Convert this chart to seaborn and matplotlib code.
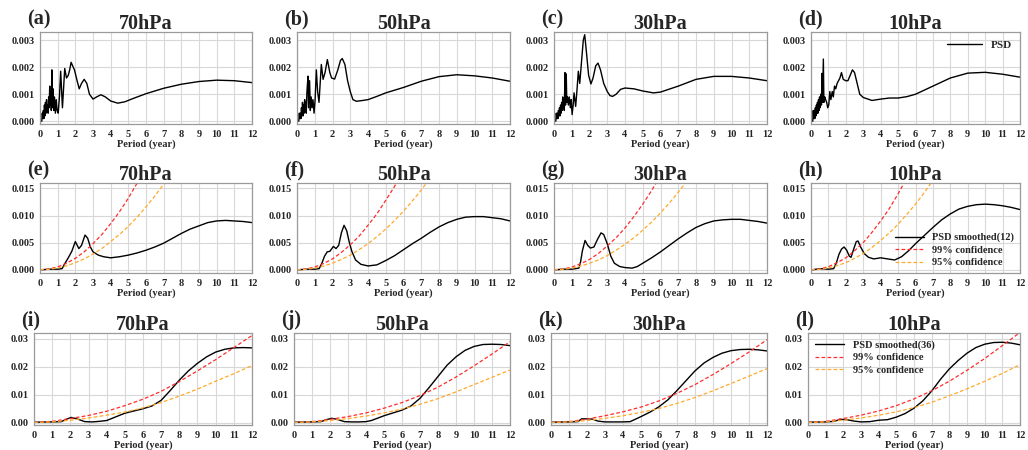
import matplotlib
matplotlib.use("Agg")
import matplotlib.pyplot as plt
import seaborn as sns
import pandas as pd
from matplotlib.ticker import FormatStrFormatter

# ---------------- data ----------------
PRESSURES = ["70hPa", "50hPa", "30hPa", "10hPa"]
LETTERS = ["(a)", "(b)", "(c)", "(d)", "(e)", "(f)", "(g)", "(h)", "(i)", "(j)", "(k)", "(l)"]
XTICKS = list(range(0, 13))
XLABEL = "Period (year)"

# Row 1: raw PSD
A_X = [0.10,0.13,0.16,0.19,0.22,0.25,0.28,0.31,0.34,0.37,0.40,0.43,0.46,0.49,0.52,0.55,0.58,0.61,0.64,0.67,0.70,0.74,0.78,0.82,0.87,0.92,0.97,1.03,1.10,1.17,1.27,1.40,1.50,1.60,1.68,1.76,1.95,2.10,2.22,2.35,2.50,2.65,2.80,3.00,3.20,3.45,3.70,4.00,4.40,4.80,5.30,6.00,7.00,8.00,9.00,10.00,11.00,12.00]
A_Y = [0.0000,0.0003,0.0001,0.0004,0.0001,0.0006,0.0002,0.0007,0.0003,0.0008,0.0004,0.0006,0.0003,0.0009,0.0005,0.0013,0.0006,0.0010,0.0004,0.0019,0.0005,0.0012,0.0004,0.0009,0.0003,0.0008,0.0004,0.0003,0.0009,0.00185,0.0005,0.00195,0.0016,0.0017,0.0019,0.00218,0.0019,0.0015,0.0012,0.0014,0.00155,0.0014,0.0010,0.00082,0.0009,0.00098,0.0009,0.00075,0.00067,0.00072,0.00085,0.00102,0.00122,0.00137,0.00147,0.00152,0.00150,0.00143]

B_X = [0.10,0.13,0.16,0.19,0.22,0.25,0.28,0.31,0.34,0.37,0.40,0.43,0.46,0.49,0.52,0.56,0.62,0.65,0.71,0.75,0.80,0.85,0.90,0.96,1.02,1.09,1.16,1.24,1.37,1.47,1.58,1.71,1.85,1.95,2.12,2.30,2.45,2.55,2.70,2.85,3.00,3.15,3.35,3.70,4.00,4.50,5.00,6.00,7.00,8.00,9.00,10.00,11.00,12.00]
B_Y = [0.0000,0.0003,0.0001,0.0003,0.0001,0.0005,0.0002,0.0007,0.0002,0.0006,0.0003,0.0008,0.0004,0.0007,0.0003,0.0011,0.00167,0.0005,0.0015,0.0004,0.0009,0.0005,0.0008,0.0003,0.0008,0.0019,0.0011,0.0007,0.0021,0.00155,0.0018,0.00228,0.0018,0.0016,0.00156,0.0019,0.00225,0.00232,0.0021,0.0015,0.0011,0.0008,0.00074,0.00077,0.0008,0.00092,0.00105,0.00125,0.00148,0.00165,0.00172,0.00168,0.00160,0.00148]

C_X = [0.10,0.13,0.16,0.19,0.22,0.25,0.28,0.31,0.34,0.37,0.40,0.43,0.46,0.49,0.52,0.55,0.58,0.62,0.65,0.69,0.72,0.76,0.81,0.86,0.92,0.97,1.02,1.08,1.13,1.22,1.30,1.37,1.45,1.55,1.65,1.73,1.82,1.95,2.08,2.20,2.35,2.48,2.62,2.80,3.00,3.15,3.30,3.50,3.75,4.00,4.50,5.00,5.60,6.00,7.00,8.00,9.00,10.00,11.00,12.00]
C_Y = [0.0000,0.0003,0.0001,0.0003,0.0001,0.0004,0.0002,0.0005,0.0002,0.0006,0.0003,0.0007,0.0004,0.0009,0.0005,0.0008,0.0004,0.0018,0.0006,0.00175,0.0007,0.0009,0.0006,0.0009,0.0005,0.0008,0.00025,0.0006,0.00105,0.00055,0.0012,0.00185,0.0014,0.0022,0.0030,0.0032,0.0026,0.0017,0.00138,0.0016,0.00205,0.00215,0.0019,0.0014,0.0011,0.00095,0.00092,0.0010,0.00118,0.00123,0.0012,0.00112,0.00105,0.00108,0.0013,0.00155,0.00166,0.00166,0.0016,0.0015]

D_X = [0.10,0.13,0.16,0.19,0.22,0.25,0.28,0.31,0.34,0.37,0.40,0.43,0.46,0.49,0.52,0.56,0.60,0.63,0.66,0.71,0.74,0.79,0.84,0.90,0.96,1.02,1.08,1.14,1.22,1.28,1.35,1.42,1.50,1.58,1.66,1.75,1.85,2.00,2.12,2.25,2.38,2.50,2.65,2.80,3.00,3.50,4.00,4.50,5.00,5.50,6.00,7.00,8.00,9.00,10.00,11.00,12.00]
D_Y = [0.0000,0.0004,0.0001,0.0004,0.0001,0.0005,0.0002,0.0006,0.0003,0.0007,0.0003,0.0008,0.0004,0.0009,0.0005,0.0010,0.0006,0.00177,0.0007,0.0023,0.0007,0.0009,0.0008,0.0007,0.0005,0.0006,0.0011,0.0008,0.0011,0.0009,0.0013,0.0012,0.0014,0.0015,0.0016,0.0018,0.00155,0.0015,0.0015,0.0017,0.0019,0.0018,0.0014,0.0010,0.00088,0.00077,0.00082,0.00086,0.00086,0.00091,0.0010,0.0013,0.0016,0.00178,0.00181,0.00174,0.00163]

# Row 2: smoothed(12) PSD
E_X = [0.1,0.5,1.0,1.25,1.4,1.6,1.8,2.0,2.2,2.35,2.55,2.7,2.85,3.0,3.3,3.6,4.0,4.5,5.0,5.5,6.0,6.5,7.0,7.5,8.0,8.5,9.0,9.5,10.0,10.5,11.0,11.5,12.0]
E_Y = [0.0,0.0001,0.0001,0.0002,0.0011,0.0022,0.0034,0.0052,0.0039,0.0045,0.0064,0.0058,0.0042,0.0033,0.0027,0.0024,0.0022,0.0024,0.0027,0.0031,0.0036,0.0042,0.0049,0.0058,0.0067,0.0075,0.0081,0.0087,0.0090,0.0091,0.0090,0.0089,0.0087]
F_X = [0.1,0.5,1.0,1.25,1.4,1.55,1.7,1.85,2.05,2.2,2.35,2.5,2.65,2.8,2.95,3.1,3.3,3.6,4.0,4.5,5.0,5.5,6.0,6.5,7.0,7.5,8.0,8.5,9.0,9.5,10.0,10.5,11.0,11.5,12.0]
F_Y = [0.0,0.0001,0.0001,0.0002,0.0012,0.0025,0.0033,0.0034,0.0043,0.0039,0.0045,0.0068,0.0082,0.0072,0.0050,0.0033,0.0018,0.0010,0.0007,0.0009,0.0017,0.0026,0.0037,0.0048,0.0058,0.0069,0.0079,0.0087,0.0093,0.0097,0.0098,0.0098,0.0096,0.0094,0.0090]
G_X = [0.1,0.5,1.0,1.4,1.5,1.6,1.75,1.9,2.05,2.25,2.45,2.65,2.8,3.0,3.2,3.4,3.7,4.0,4.4,4.7,5.0,5.5,6.0,6.5,7.0,7.5,8.0,8.5,9.0,9.5,10.0,10.5,11.0,11.5,12.0]
G_Y = [0.0,0.0001,0.0001,0.0003,0.0015,0.0035,0.0054,0.0045,0.0040,0.0042,0.0056,0.0068,0.0065,0.0048,0.0025,0.0012,0.0006,0.0004,0.0003,0.0006,0.0012,0.0022,0.0033,0.0045,0.0057,0.0068,0.0078,0.0085,0.0090,0.0092,0.0093,0.0093,0.0091,0.0089,0.0086]
H_X = [0.1,0.5,1.0,1.3,1.45,1.6,1.75,1.9,2.05,2.2,2.3,2.45,2.6,2.7,2.85,3.05,3.3,3.6,4.0,4.4,4.8,5.2,5.6,6.0,6.5,7.0,7.5,8.0,8.5,9.0,9.5,10.0,10.5,11.0,11.5,12.0]
H_Y = [0.0,0.0002,0.0001,0.0002,0.0012,0.0028,0.0038,0.0042,0.0036,0.0025,0.0023,0.0038,0.0052,0.0053,0.0042,0.0030,0.0023,0.0020,0.0022,0.0020,0.0018,0.0024,0.0035,0.0048,0.0063,0.0078,0.0092,0.0103,0.0112,0.0117,0.0120,0.0121,0.0120,0.0118,0.0115,0.0111]

# Row 2 confidence curves
CONF12_X = [0.0,0.5,1.0,1.5,2.0,2.5,3.0,3.5,4.0,4.5,5.0,5.5,6.0,6.5,7.0,7.5,8.0]
E_99 = [0.0,0.00013,0.00053,0.0012,0.0021,0.0033,0.0048,0.0065,0.0085,0.0107,0.0132,0.0160,0.0190,0.0224,0.026,0.030,0.034]
E_95 = [0.0,0.00008,0.00032,0.00072,0.0013,0.0020,0.0029,0.0039,0.0052,0.0065,0.0080,0.0097,0.0116,0.0136,0.0158,0.0181,0.0206]
F_99 = [0.0,0.00013,0.00051,0.00115,0.0020,0.0032,0.0046,0.0062,0.0082,0.0103,0.0128,0.0154,0.0184,0.0215,0.025,0.029,0.033]
F_95 = [0.0,0.000075,0.0003,0.00068,0.0012,0.0019,0.0027,0.0037,0.0048,0.0061,0.0075,0.0091,0.0108,0.0127,0.0147,0.0169,0.0192]
G_99 = [0.0,0.00012,0.00048,0.0011,0.0019,0.0030,0.0044,0.0059,0.0077,0.0098,0.0121,0.0146,0.0174,0.0204,0.024,0.027,0.031]
G_95 = [0.0,0.00007,0.00029,0.00066,0.0012,0.0018,0.0026,0.0036,0.0047,0.0059,0.0073,0.0088,0.0105,0.0123,0.0143,0.0164,0.0187]
H_99 = [0.0,0.00014,0.00056,0.0013,0.0022,0.0035,0.0050,0.0069,0.0090,0.0113,0.0140,0.0169,0.0202,0.0236,0.027,0.031,0.036]
H_95 = [0.0,0.00008,0.00034,0.00076,0.0013,0.0021,0.0030,0.0041,0.0054,0.0068,0.0084,0.0102,0.0121,0.0142,0.0165,0.0189,0.0215]

# Row 3: smoothed(36) PSD
I_X = [0.0,1.0,1.5,1.8,2.05,2.4,2.8,3.2,3.6,4.0,4.5,5.0,5.5,6.0,6.5,7.0,7.5,8.0,8.5,9.0,9.5,10.0,10.5,11.0,11.5,12.0]
I_Y = [0.0002,0.0003,0.0004,0.0013,0.0019,0.0013,0.0004,0.0003,0.0005,0.0008,0.0021,0.0034,0.0042,0.0050,0.0060,0.0080,0.0115,0.0152,0.0185,0.0212,0.0235,0.0252,0.0262,0.0267,0.0268,0.0267]
J_X = [0.0,1.0,1.5,1.8,2.1,2.4,2.8,3.2,3.6,4.0,4.3,5.0,5.5,6.0,6.5,7.0,7.5,8.0,8.5,9.0,9.5,10.0,10.5,11.0,11.5,12.0]
J_Y = [0.0002,0.0003,0.0004,0.0011,0.0016,0.0012,0.0004,0.0003,0.0003,0.0004,0.0008,0.0025,0.0035,0.0045,0.0060,0.0087,0.0125,0.0165,0.0205,0.0235,0.0258,0.0272,0.0279,0.0280,0.0279,0.0275]
K_X = [0.0,1.0,1.5,1.7,2.0,2.3,2.6,3.0,3.5,4.0,4.4,5.0,5.5,6.0,6.5,7.0,7.5,8.0,8.5,9.0,9.5,10.0,10.5,11.0,11.5,12.0]
K_Y = [0.0002,0.0003,0.0004,0.0014,0.0014,0.0013,0.0006,0.0003,0.0003,0.0003,0.0004,0.0022,0.0038,0.0057,0.0082,0.0115,0.0150,0.0185,0.0213,0.0233,0.0248,0.0257,0.0261,0.0262,0.0260,0.0256]
L_X = [0.0,1.0,1.5,1.8,2.2,2.6,3.0,3.5,4.0,4.5,5.0,5.5,6.0,6.5,7.0,7.5,8.0,8.5,9.0,9.5,10.0,10.5,11.0,11.5,12.0]
L_Y = [0.0002,0.0003,0.0005,0.0012,0.0011,0.0006,0.0003,0.0004,0.0009,0.0011,0.0020,0.0033,0.0052,0.0078,0.0113,0.0155,0.0192,0.0222,0.0248,0.0268,0.0280,0.0286,0.0287,0.0284,0.0278]

CONF36_X = [0,1,2,3,4,5,6,7,8,9,10,11,12]
I_99 = [0.0001,0.0005,0.0015,0.0026,0.0041,0.0061,0.0084,0.0112,0.0147,0.0185,0.0225,0.0268,0.0311]
I_95 = [0.0001,0.0003,0.0009,0.0017,0.0027,0.0038,0.0053,0.0072,0.0095,0.0120,0.0148,0.0175,0.0204]
J_99 = [0.0001,0.0004,0.0012,0.0022,0.0035,0.0052,0.0072,0.0097,0.0127,0.0163,0.0203,0.0245,0.0289]
J_95 = [0.0001,0.0003,0.0008,0.0015,0.0024,0.0035,0.0049,0.0066,0.0086,0.0110,0.0136,0.0162,0.0188]
K_99 = [0.0001,0.0004,0.0013,0.0025,0.0039,0.0056,0.0078,0.0105,0.0136,0.0172,0.0211,0.0252,0.0296]
K_95 = [0.0001,0.0003,0.0008,0.0016,0.0025,0.0037,0.0051,0.0069,0.0090,0.0114,0.0140,0.0166,0.0193]
L_99 = [0.0001,0.0005,0.0015,0.0027,0.0042,0.0061,0.0085,0.0114,0.0148,0.0187,0.0229,0.0275,0.0322]
L_95 = [0.0001,0.0003,0.0009,0.0017,0.0027,0.0039,0.0054,0.0073,0.0096,0.0121,0.0148,0.0176,0.0207]

ROW1 = [(A_X, A_Y), (B_X, B_Y), (C_X, C_Y), (D_X, D_Y)]
ROW2 = [(E_X, E_Y, E_99, E_95), (F_X, F_Y, F_99, F_95), (G_X, G_Y, G_99, G_95), (H_X, H_Y, H_99, H_95)]
ROW3 = [(I_X, I_Y, I_99, I_95), (J_X, J_Y, J_99, J_95), (K_X, K_Y, K_99, K_95), (L_X, L_Y, L_99, L_95)]

# ---------------- style ----------------
sns.set_theme(style="whitegrid")
plt.rcParams["font.family"] = ["Liberation Serif", "DejaVu Serif"]
plt.rcParams["font.weight"] = "bold"
plt.rcParams["axes.labelweight"] = "bold"

W, H = 1028, 450
fig = plt.figure(figsize=(W / 100, H / 100), dpi=100)
fig.patch.set_facecolor("white")

RED = "#ff2d2d"
ORANGE = "#ffaa2a"
DASH = (0, (3.0, 1.8))

# pixel boxes (left, right, top, bottom)
COLS12 = [(40, 252), (297, 510), (554, 767), (811, 1020)]
COLS3 = [(34, 252), (294, 510), (551, 767), (808, 1020)]
ROWS = [(32, 124), (183, 273), (333, 425)]


def make_ax(l, r, t, b):
    return fig.add_axes([l / W, (H - b) / H, (r - l) / W, (b - t) / H])


def style_ax(ax, letter, title, yticks, ylim, fmt):
    ax.set_xlim(0, 12)
    ax.set_ylim(*ylim)
    ax.set_xticks(XTICKS)
    ax.set_yticks(yticks)
    ax.yaxis.set_major_formatter(FormatStrFormatter(fmt))
    ax.grid(True, color="#d8d8d8", lw=0.8)
    ax.set_facecolor("white")
    for s in ax.spines.values():
        s.set_color("#9a9a9a")
        s.set_linewidth(0.9)
    ax.tick_params(axis="both", labelsize=7.5, length=2, width=0.6, color="#9a9a9a", pad=2)
    for lab in ax.get_xticklabels() + ax.get_yticklabels():
        lab.set_fontweight("bold")
    ax.set_xlabel(XLABEL, fontsize=7.5, fontweight="bold", labelpad=0.5)
    ax.set_ylabel("")
    ax.set_title(title, fontsize=14.5, fontweight="bold", pad=2.5)
    ax.annotate(letter, xy=(0, 1), xycoords="axes fraction", xytext=(-9.5, 2),
                textcoords="offset points", fontsize=14.5, fontweight="bold",
                ha="left", va="bottom")


def drop_legend(ax):
    leg = ax.get_legend()
    if leg is not None:
        leg.remove()


# Row 1
for i, (x, y) in enumerate(ROW1):
    l, r = COLS12[i]
    t, b = ROWS[0]
    ax = make_ax(l, r, t, b)
    df = pd.DataFrame({"period": x, "psd": y})
    sns.lineplot(data=df, x="period", y="psd", ax=ax, color="black", lw=1.0,
                 estimator=None, sort=False, label="PSD")
    drop_legend(ax)
    style_ax(ax, LETTERS[i], PRESSURES[i], [0, 0.001, 0.002, 0.003], (-0.0001, 0.0033), "%.3f")
    if i == 3:
        ax.legend(loc="upper right", frameon=False, prop={"size": 8, "weight": "bold"},
                  handlelength=3.2, borderaxespad=0.3)

# Row 2
for i, (x, y, c99, c95) in enumerate(ROW2):
    l, r = COLS12[i]
    t, b = ROWS[1]
    ax = make_ax(l, r, t, b)
    sns.lineplot(x=x, y=y, ax=ax, color="black", lw=1.0, estimator=None, sort=False,
                 label="PSD smoothed(12)")
    sns.lineplot(x=CONF12_X, y=c99, ax=ax, color=RED, lw=0.9, ls=DASH, estimator=None,
                 sort=False, label="99% confidence")
    sns.lineplot(x=CONF12_X, y=c95, ax=ax, color=ORANGE, lw=0.9, ls=DASH, estimator=None,
                 sort=False, label="95% confidence")
    drop_legend(ax)
    style_ax(ax, LETTERS[4 + i], PRESSURES[i], [0, 0.005, 0.010, 0.015], (-0.0006, 0.016), "%.3f")
    if i == 3:
        ax.legend(loc="lower right", frameon=False, prop={"size": 7.5, "weight": "bold"},
                  handlelength=2.8, labelspacing=0.3, borderaxespad=0.15)

# Row 3
for i, (x, y, c99, c95) in enumerate(ROW3):
    l, r = COLS3[i]
    t, b = ROWS[2]
    ax = make_ax(l, r, t, b)
    sns.lineplot(x=x, y=y, ax=ax, color="black", lw=1.0, estimator=None, sort=False,
                 label="PSD smoothed(36)")
    sns.lineplot(x=CONF36_X, y=c99, ax=ax, color=RED, lw=0.9, ls=DASH, estimator=None,
                 sort=False, label="99% confidence")
    sns.lineplot(x=CONF36_X, y=c95, ax=ax, color=ORANGE, lw=0.9, ls=DASH, estimator=None,
                 sort=False, label="95% confidence")
    drop_legend(ax)
    style_ax(ax, LETTERS[8 + i], PRESSURES[i], [0, 0.01, 0.02, 0.03], (-0.0008, 0.032), "%.2f")
    if i == 3:
        ax.legend(loc="upper left", frameon=False, prop={"size": 7.5, "weight": "bold"},
                  handlelength=2.8, labelspacing=0.3, borderaxespad=0.3)

fig.savefig("out.png", dpi=100, facecolor="white")
